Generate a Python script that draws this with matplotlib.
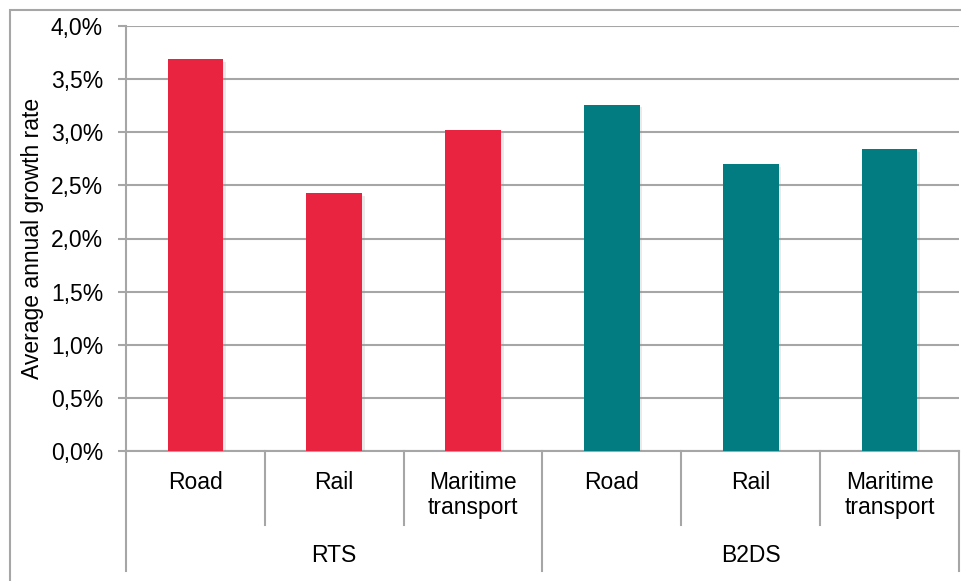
import matplotlib
matplotlib.use("Agg")
from matplotlib import pyplot as plt
from matplotlib import patheffects
from matplotlib.patches import Rectangle
from matplotlib.ticker import FuncFormatter, MultipleLocator

plt.rcParams['font.family'] = ['Liberation Sans', 'DejaVu Sans']

scenarios = ["RTS", "B2DS"]
modes = ["Road", "Rail", "Maritime\ntransport"]
rts_growth = [3.69, 2.43, 3.02]     # % per year
b2ds_growth = [3.26, 2.70, 2.84]
colors = ["#E92441", "#027C80"]

GRID = "#A6A6A6"
FS = 16.5
W, H = 962, 581

fig = plt.figure(figsize=(W / 100, H / 100), dpi=100)
ax = fig.add_axes([126 / W, (H - 451) / H, 833 / W, 425 / H])

# outer chart border
fig.patches.append(Rectangle((10 / W, -0.05), 1.0, (H - 10) / H + 0.05,
                             transform=fig.transFigure, fill=False,
                             edgecolor=GRID, linewidth=1.5, zorder=0))

shadow = [patheffects.SimplePatchShadow(offset=(2, -2), shadow_rgbFace="#909090", alpha=0.18),
          patheffects.Normal()]

series = [rts_growth, b2ds_growth]
x = 0
for gi, vals in enumerate(series):
    for v in vals:
        ax.bar(x, v, width=0.4, color=colors[gi], zorder=3, path_effects=shadow)
        x += 1

ax.set_xlim(-0.5, len(scenarios) * len(modes) - 0.5)
ax.set_ylim(0, 4.0)
ax.yaxis.set_major_locator(MultipleLocator(0.5))
ax.yaxis.set_major_formatter(FuncFormatter(lambda v, p: f"{v:.1f}%".replace(".", ",")))
ax.grid(axis="y", color=GRID, linewidth=1.5, zorder=0)
ax.tick_params(axis="y", length=6, width=1.5, color=GRID, labelsize=FS, pad=10.5)
ax.set_xticks([])
for side in ["top", "right"]:
    ax.spines[side].set_visible(False)
ax.spines["left"].set_color(GRID)
ax.spines["left"].set_linewidth(1.5)
ax.spines["bottom"].set_color(GRID)
ax.spines["bottom"].set_linewidth(1.5)
ax.set_ylabel("Average annual growth rate", fontsize=FS, labelpad=5)

# two-level category axis under the bars
trans = ax.get_xaxis_transform()
n = len(modes)
for i in range(len(scenarios) * n + 1):
    bottom = -0.282 if i % n == 0 else -0.174
    ax.plot([i - 0.5, i - 0.5], [0, bottom], color=GRID, linewidth=1.5,
            transform=trans, clip_on=False)
for gi, name in enumerate(scenarios):
    for mi, mode in enumerate(modes):
        ax.text(gi * n + mi, -0.048, mode, transform=trans, ha="center", va="top",
                fontsize=FS, linespacing=1.1)
    ax.text(gi * n + (n - 1) / 2, -0.245, name, transform=trans, ha="center",
            va="center", fontsize=FS)

fig.savefig("out.png", dpi=100)
